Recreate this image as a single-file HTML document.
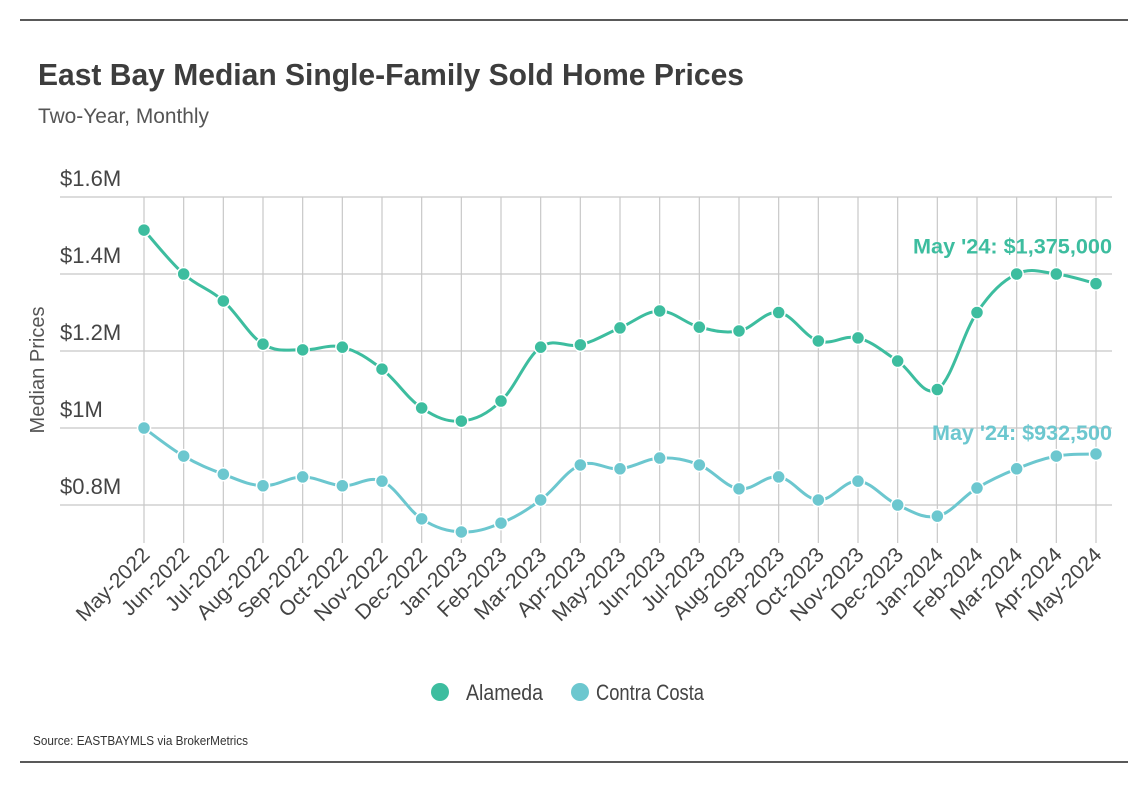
<!DOCTYPE html>
<html><head><meta charset="utf-8"><style>
html,body{margin:0;padding:0;background:#fff;}
svg{display:block;font-family:"Liberation Sans Narrow","Liberation Sans",sans-serif;}
</style></head><body>
<svg id="chart" width="1144" height="804" viewBox="0 0 1144 804" xmlns="http://www.w3.org/2000/svg">
<line x1="20" y1="20" x2="1128" y2="20" stroke="#222" stroke-width="1.5"/>
<line x1="20" y1="762" x2="1128" y2="762" stroke="#222" stroke-width="1.5"/>
<text x="38" y="85" font-size="31" font-weight="bold" fill="#3d3d3d" textLength="706" lengthAdjust="spacingAndGlyphs">East Bay Median Single-Family Sold Home Prices</text>
<text x="38" y="123" font-size="21" fill="#555" textLength="171" lengthAdjust="spacingAndGlyphs">Two-Year, Monthly</text>
<text transform="translate(44,370) rotate(-90)" text-anchor="middle" font-size="20" fill="#555" textLength="127" lengthAdjust="spacingAndGlyphs">Median Prices</text>
<g id="grid"></g>
<g id="plot"></g>
<g>
<g><circle cx="440" cy="692" r="9" fill="#3dbd9f"/><text x="466" y="700" font-size="22" fill="#444" textLength="77" lengthAdjust="spacingAndGlyphs">Alameda</text></g>
<g><circle cx="580" cy="692" r="9" fill="#6cc7cf"/><text x="596" y="700" font-size="22" fill="#444" textLength="108" lengthAdjust="spacingAndGlyphs">Contra Costa</text></g>
</g>
<text x="33" y="745" font-size="13" fill="#333" textLength="215" lengthAdjust="spacingAndGlyphs">Source:  EASTBAYMLS via BrokerMetrics</text>
</svg>
<script>
const categories=["May-2022","Jun-2022","Jul-2022","Aug-2022","Sep-2022","Oct-2022","Nov-2022","Dec-2022","Jan-2023","Feb-2023","Mar-2023","Apr-2023","May-2023","Jun-2023","Jul-2023","Aug-2023","Sep-2023","Oct-2023","Nov-2023","Dec-2023","Jan-2024","Feb-2024","Mar-2024","Apr-2024","May-2024"];
const alameda=[1.514,1.40,1.33,1.218,1.203,1.21,1.153,1.052,1.018,1.07,1.21,1.216,1.26,1.304,1.262,1.252,1.30,1.226,1.234,1.174,1.10,1.30,1.40,1.40,1.375];
const contraCosta=[1.0,0.927,0.88,0.85,0.873,0.85,0.862,0.764,0.73,0.753,0.813,0.904,0.894,0.922,0.904,0.842,0.873,0.813,0.862,0.80,0.771,0.844,0.894,0.927,0.9325];
const yTicks=[0.8,1.0,1.2,1.4,1.6];
const yTickLabels=["$0.8M","$1M","$1.2M","$1.4M","$1.6M"];
const annotations=["May '24: $1,375,000","May '24: $932,500"];

const NS="http://www.w3.org/2000/svg";
const x0=144,x1=1096,yBase=428,pxPerM=385;
function xs(i){return x0+(x1-x0)*i/(categories.length-1);}
function ys(v){return yBase-(v-1)*pxPerM;}
function mk(tag,attrs,parent){const e=document.createElementNS(NS,tag);for(const k in attrs)e.setAttribute(k,attrs[k]);parent.appendChild(e);return e;}
const grid=document.getElementById('grid'),plot=document.getElementById('plot');
yTicks.forEach((t,i)=>{
 const l=mk('line',{x1:60,x2:1112,y1:ys(t),y2:ys(t),stroke:'#c8c8c8','stroke-width':1.2},grid);
 
 
 const tx=mk('text',{x:60,y:ys(t)-11,'font-size':22,fill:'#444'},grid);
 tx.textContent=yTickLabels[i];
 
 
});
function labLen(c){const m=c.slice(0,3);return ({May:94,Jun:86,Jul:80,Aug:92,Sep:90,Oct:88,Nov:94,Dec:92,Jan:86,Feb:88,Mar:92,Apr:88})[m]||90;}
categories.forEach((c,i)=>{
 const l=mk('line',{x1:xs(i),x2:xs(i),y1:ys(1.6),y2:543,stroke:'#c8c8c8','stroke-width':1.2},grid);
 
 
 const tx=mk('text',{x:xs(i)+7,y:556,'font-size':21,fill:'#444','text-anchor':'end',textLength:labLen(c),lengthAdjust:'spacingAndGlyphs',transform:`rotate(-45 ${xs(i)+7} 556)`},grid);
 tx.textContent=c;
 
 
});
function smooth(pts){
 let d=`M${pts[0][0]},${pts[0][1]}`;
 for(let i=0;i<pts.length-1;i++){
  const p0=pts[i-1]||pts[i],p1=pts[i],p2=pts[i+1],p3=pts[i+2]||p2;
  const t=0.18;
  d+=` C${p1[0]+(p2[0]-p0[0])*t},${p1[1]+(p2[1]-p0[1])*t} ${p2[0]-(p3[0]-p1[0])*t},${p2[1]-(p3[1]-p1[1])*t} ${p2[0]},${p2[1]}`;
 }
 return d;
}
function series(vals,color,name,label,labelDy,len){
 const pts=vals.map((v,i)=>[xs(i),ys(v)]);
 const p=mk('path',{d:smooth(pts),fill:'none',stroke:color,'stroke-width':3},plot);
 
 
 pts.forEach(pt=>{
  const c=mk('circle',{cx:pt[0],cy:pt[1],r:6.5,fill:color,stroke:'#fff','stroke-width':1.5},plot);
  
  
 });
 const last=pts[pts.length-1];
 const t=mk('text',{x:last[0]+16,y:last[1]+labelDy,'font-size':21,'font-weight':'bold',fill:color,'text-anchor':'end',textLength:len,lengthAdjust:'spacingAndGlyphs'},plot);
 t.textContent=label;
 
 
}
series(alameda,'#3dbd9f','alameda',annotations[0],-30,199);
series(contraCosta,'#6cc7cf','contra-costa',annotations[1],-14,180);
</script>
</body></html>
